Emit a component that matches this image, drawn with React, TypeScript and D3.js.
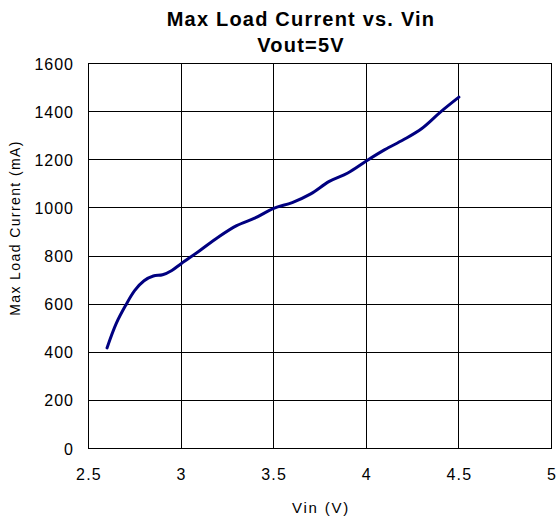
import React from "react";
import * as d3 from "d3";

const vin = [2.6, 2.65, 2.7, 2.75, 2.8, 2.85, 2.9, 2.95, 3.0, 3.1, 3.2, 3.3, 3.4, 3.5, 3.6, 3.7, 3.8, 3.9, 4.0, 4.1, 4.2, 4.3, 4.4, 4.5];
const current = [418, 520, 594, 657, 697, 717, 722, 740, 768, 822, 878, 926, 958, 998, 1022, 1058, 1110, 1145, 1195, 1242, 1283, 1330, 1398, 1460];
const xTicks = [2.5, 3, 3.5, 4, 4.5, 5];
const yTicks = [0, 200, 400, 600, 800, 1000, 1200, 1400, 1600];
const titleLines = ["Max Load Current vs. Vin", "Vout=5V"];
const xLabel = "Vin (V)";
const yLabel = "Max Load Current (mA)";

const W = 558;
const H = 519;
const left = 88.5;
const right = 551.5;
const top = 63.5;
const bottom = 448.5;

export default function App() {
  const x = d3.scaleLinear().domain([2.5, 5]).range([left, right]);
  const y = d3.scaleLinear().domain([0, 1600]).range([bottom, top]);
  const pts: [number, number][] = vin.map((v, i) => [v, current[i]]);
  const line = d3
    .line<[number, number]>()
    .x((d) => x(d[0]))
    .y((d) => y(d[1]))
    .curve(d3.curveCatmullRom.alpha(0.5));
  const font = "'Liberation Sans', Arial, sans-serif";
  const snap = (v: number) => Math.round(v - 0.5) + 0.5;
  return (
    <svg
      width={W}
      height={H}
      style={{ position: "absolute", left: 0, top: 0, background: "#fff" }}
      fontFamily={font}
    >
      <rect x={0} y={0} width={W} height={H} fill="#fff" />
      {titleLines.map((t, i) => (
        <text
          key={t}
          x={301}
          y={26 + i * 26}
          textAnchor="middle"
          fontSize={20}
          fontWeight="bold"
          letterSpacing={1.2}
          fill="#000"
        >
          {t}
        </text>
      ))}
      {yTicks.map((t) => (
        <g key={"y" + t}>
          <line x1={left} x2={right} y1={snap(y(t))} y2={snap(y(t))} stroke="#000" strokeWidth={1} />
          <text x={74} y={y(t) + 6} textAnchor="end" fontSize={16} letterSpacing={1} fill="#000">
            {t}
          </text>
        </g>
      ))}
      {xTicks.map((t) => (
        <g key={"x" + t}>
          <line x1={snap(x(t))} x2={snap(x(t))} y1={top} y2={bottom} stroke="#000" strokeWidth={1} />
          <text x={x(t) + 0.5} y={480} textAnchor="middle" fontSize={16} letterSpacing={1.2} fill="#000">
            {t}
          </text>
        </g>
      ))}
      <rect x={left} y={top} width={right - left} height={bottom - top} fill="none" stroke="#000" strokeWidth={1} />
      <path d={line(pts) || ""} fill="none" stroke="#000080" strokeWidth={3} strokeLinejoin="round" strokeLinecap="round" />
      <text x={321} y={513} textAnchor="middle" fontSize={15} letterSpacing={1.8} fill="#000">
        {xLabel}
      </text>
      <text
        transform={`translate(19.5, 228) rotate(-90)`}
        textAnchor="middle"
        fontSize={14}
        letterSpacing={1.4}
        fill="#000"
      >
        {yLabel}
      </text>
    </svg>
  );
}
